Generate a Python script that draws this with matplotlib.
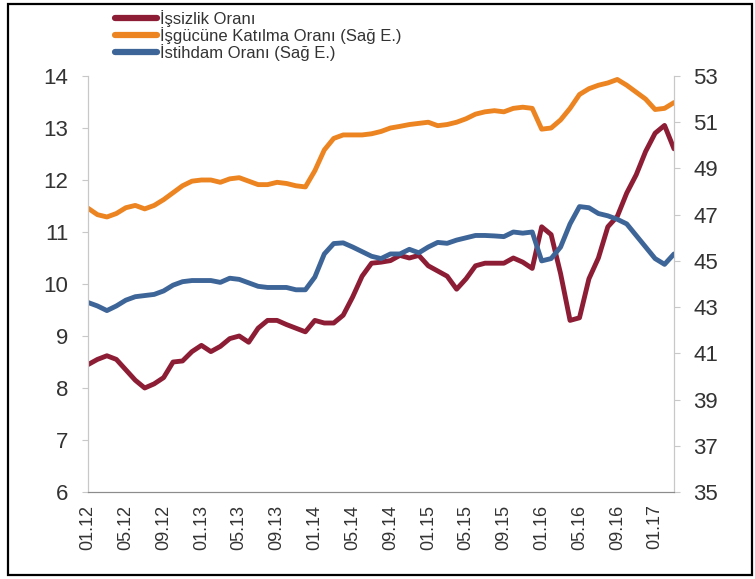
import numpy as np
import matplotlib.pyplot as plt
import pandas as pd
from matplotlib.patches import Rectangle

plt.rcParams['font.family'] = ['Liberation Sans', 'DejaVu Sans']

# Monthly data, 01.2012 - 03.2017
months = pd.period_range('2012-01', '2017-03', freq='M')
month_labels = [m.strftime('%m.%y') for m in months]

# Issizlik orani (left axis)
unemployment = [8.45, 8.55, 8.62, 8.55, 8.35, 8.15, 8.0, 8.08, 8.2, 8.5,
                8.52, 8.7, 8.82, 8.7, 8.8, 8.95, 9.0, 8.88, 9.15, 9.3,
                9.3, 9.22, 9.15, 9.08, 9.3, 9.25, 9.25, 9.4, 9.75, 10.15,
                10.4, 10.42, 10.45, 10.55, 10.5, 10.55, 10.35, 10.25, 10.15, 9.9,
                10.1, 10.35, 10.4, 10.4, 10.4, 10.5, 10.42, 10.3, 11.1, 10.95,
                10.2, 9.3, 9.35, 10.1, 10.5, 11.1, 11.3, 11.75, 12.1, 12.55,
                12.9, 13.05, 12.6]

# Isgucune katilma orani (right axis)
participation = [47.28, 47.0, 46.9, 47.05, 47.3, 47.4, 47.25, 47.4, 47.65, 47.95,
                 48.25, 48.45, 48.5, 48.5, 48.4, 48.55, 48.6, 48.45, 48.3, 48.3,
                 48.4, 48.35, 48.25, 48.2, 48.9, 49.8, 50.3, 50.45, 50.45, 50.45,
                 50.5, 50.6, 50.75, 50.82, 50.9, 50.95, 51.0, 50.85, 50.9, 51.0,
                 51.15, 51.35, 51.45, 51.5, 51.45, 51.6, 51.65, 51.6, 50.7, 50.75,
                 51.1, 51.6, 52.2, 52.45, 52.6, 52.7, 52.85, 52.6, 52.3, 52.0,
                 51.55, 51.6, 51.85]

# Istihdam orani (right axis)
employment = [43.2, 43.05, 42.85, 43.05, 43.3, 43.45, 43.5, 43.55, 43.7, 43.95,
              44.1, 44.15, 44.15, 44.15, 44.07, 44.25, 44.2, 44.05, 43.9, 43.85,
              43.85, 43.85, 43.75, 43.75, 44.3, 45.3, 45.75, 45.78, 45.6, 45.4,
              45.2, 45.1, 45.3, 45.3, 45.5, 45.35, 45.6, 45.8, 45.76, 45.9,
              46.0, 46.1, 46.1, 46.08, 46.05, 46.25, 46.2, 46.25, 45.0, 45.1,
              45.6, 46.6, 47.35, 47.3, 47.05, 46.95, 46.8, 46.6, 46.1, 45.6,
              45.1, 44.85, 45.3]

x = np.arange(len(months))

fig = plt.figure(figsize=(7.55, 5.79), dpi=100)
ax = fig.add_axes([88/755, 1 - 492/579, 586/755, 416/579])
ax2 = ax.twinx()

l1, = ax.plot(x, unemployment, color='#8C1D35', lw=3.5, solid_capstyle='round')
l2, = ax2.plot(x, participation, color='#EC8421', lw=3.5, solid_capstyle='round')
l3, = ax2.plot(x, employment, color='#3E6598', lw=3.5, solid_capstyle='round')

ax.set_xlim(0, len(months) - 1)
ax.set_ylim(6, 14)
ax2.set_ylim(35, 53)
ax.set_yticks(range(6, 15))
ax2.set_yticks(range(35, 54, 2))
ax.set_xticks(x[::4])
ax.set_xticklabels(month_labels[::4], rotation=90)

for a in (ax, ax2):
    a.spines['top'].set_visible(False)
    a.spines['left'].set_color('#C8C8C8')
    a.spines['right'].set_color('#C8C8C8')
    a.spines['bottom'].set_color('#8C8C8C')
    a.tick_params(axis='y', colors='#C8C8C8', labelcolor='#333333',
                  labelsize=16, length=4, width=0.8, pad=10)
ax.tick_params(axis='x', length=0, labelsize=13, labelcolor='#333333', pad=9)

leg = fig.legend([l1, l2, l3],
                 ['İşsizlik Oranı', 'İşgücüne Katılma Oranı (Sağ E.)',
                  'İstihdam Oranı (Sağ E.)'],
                 loc='upper left', bbox_to_anchor=(105/755, 1),
                 frameon=False, fontsize=12, handlelength=2.5, handletextpad=0.2,
                 labelspacing=0.0, borderpad=0.1, labelcolor='#333333')
for line in leg.get_lines():
    line.set_linewidth(4.5)

fig.patches.append(Rectangle((8/755, 4/579), 744/755, 571/579, fill=False,
                             edgecolor='black', lw=1.6,
                             transform=fig.transFigure, figure=fig))

plt.savefig('out.png', dpi=100)
